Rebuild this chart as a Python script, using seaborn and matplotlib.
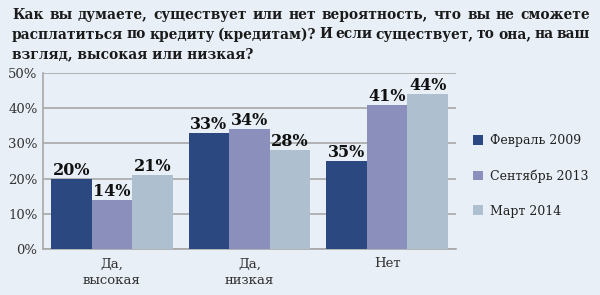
import matplotlib
matplotlib.use("Agg")
import matplotlib.pyplot as plt
import seaborn as sns
import pandas as pd

categories = ["Да,\nвысокая", "Да,\nнизкая", "Нет"]
series = ["Февраль 2009", "Сентябрь 2013", "Март 2014"]
feb2009 = [20, 33, 25]
sep2013 = [14, 34, 41]
mar2014 = [21, 28, 44]
feb2009_labels = ["20%", "33%", "35%"]
sep2013_labels = ["14%", "34%", "41%"]
mar2014_labels = ["21%", "28%", "44%"]
yticks = [0, 10, 20, 30, 40, 50]
ytick_labels = ["0%", "10%", "20%", "30%", "40%", "50%"]
title_lines = [
    "Как вы думаете, существует или нет вероятность, что вы не сможете",
    "расплатиться по кредиту (кредитам)? И если существует, то она, на ваш",
    "взгляд, высокая или низкая?",
]

colors = ["#2C4880", "#8A8FBB", "#AEC0D0"]
bg = "#E8EFF7"

rows = []
for s, vals in zip(series, [feb2009, sep2013, mar2014]):
    for c, v in zip(categories, vals):
        rows.append({"cat": c, "series": s, "value": v})
df = pd.DataFrame(rows)

sns.set_theme(style="white")
plt.rcParams["font.family"] = ["DejaVu Serif", "Liberation Serif"]

fig = plt.figure(figsize=(6, 2.95), dpi=100, facecolor=bg)
ax = fig.add_axes([43 / 600, 46 / 295, 413 / 600, 176 / 295])
ax.set_facecolor(bg)

sns.barplot(data=df, x="cat", y="value", hue="series", palette=colors,
            order=categories, hue_order=series, width=0.885, ax=ax,
            saturation=1, edgecolor="none", linewidth=0, zorder=3)

for cont, labs in zip(ax.containers, [feb2009_labels, sep2013_labels, mar2014_labels]):
    ax.bar_label(cont, labels=labs, padding=0, fontsize=11.5, fontweight="bold",
                 color="#111111")

ax.set_ylim(0, 50)
ax.set_xlim(-0.5, 2.5)
ax.set_yticks(yticks)
ax.set_yticklabels(ytick_labels, fontsize=9.5, color="#333333")
for t in ax.get_xticklabels():
    t.set_linespacing(1.35)
ax.tick_params(axis="x", labelsize=9.5, colors="#333333", pad=6, length=0)
ax.tick_params(axis="y", length=0, pad=4)
ax.set_xlabel("")
ax.set_ylabel("")
ax.yaxis.grid(True, color="#A8A8A8", linewidth=1.2, zorder=0)
ax.xaxis.grid(False)
for sp in ["top", "right"]:
    ax.spines[sp].set_visible(False)
for sp in ["left", "bottom"]:
    ax.spines[sp].set_color("#A8A8A8")
    ax.spines[sp].set_linewidth(1.2)

leg = ax.legend(loc="upper left", bbox_to_anchor=(1.03, 0.68), frameon=False,
                fontsize=9, handlelength=0.8, handleheight=0.8, handletextpad=0.55,
                labelspacing=1.75, borderaxespad=0)
for t in leg.get_texts():
    t.set_color("#222222")

# Justified title
fig.canvas.draw()
renderer = fig.canvas.get_renderer()
x0, x1 = 12, 590
fs = 9.9
for i, line in enumerate(title_lines):
    ytop = 1 - (8 + i * 19.5) / 295
    words = line.split(" ")
    if i < len(title_lines) - 1:
        texts = [fig.text(0, ytop, w, fontsize=fs, fontweight="bold", color="#1A1A1A",
                          ha="left", va="top") for w in words]
        widths = [t.get_window_extent(renderer).width for t in texts]
        gap = (x1 - x0 - sum(widths)) / (len(words) - 1)
        x = x0
        for t, w in zip(texts, widths):
            t.set_x(x / 600)
            x += w + gap
    else:
        fig.text(x0 / 600, ytop, line, fontsize=fs, fontweight="bold", color="#1A1A1A",
                 ha="left", va="top")

fig.savefig("out.png", dpi=100, facecolor=bg)
